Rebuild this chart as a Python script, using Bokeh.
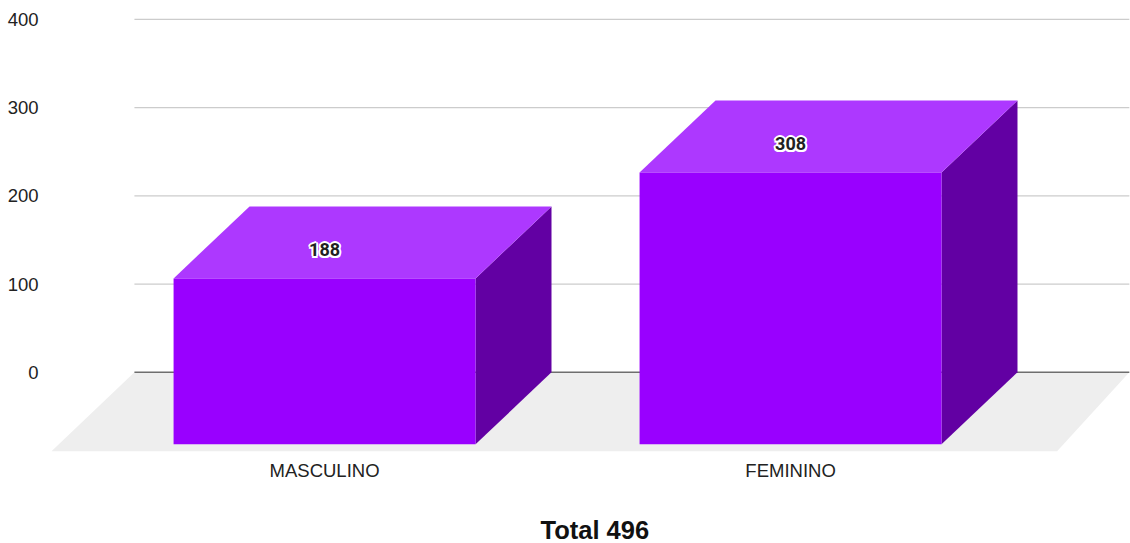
from bokeh.plotting import figure
from bokeh.models import Range1d, FixedTicker, Title
from bokeh.core.properties import value
from bokeh.embed import file_html
from bokeh.resources import INLINE

categories = ["MASCULINO", "FEMININO"]
counts = [188, 308]
y_ticks = [0, 100, 200, 300, 400]
chart_title = "Total 496"

BAR_WIDTH = 0.648
DEPTH_X = 0.163
DEPTH_Y = 81.6
LABEL_DROP = 49
FLOOR_BACK = (-0.408, 1.727)
FLOOR_FRONT = (-0.586, 1.572)
FLOOR_DEPTH = 89.5

FRONT = "#9900ff"
TOP = "#ad38ff"
SIDE = "#6200a3"
FONT = "Liberation Sans"

p = figure(width=1130, height=543, frame_width=1084, frame_height=444,
           output_backend="svg", toolbar_location=None,
           x_range=Range1d(-0.5967, 1.7295), y_range=Range1d(-90.9, 412.25),
           min_border_left=46, min_border_right=0, min_border_top=8, min_border_bottom=91)
p.outline_line_color = None
p.grid.visible = False

p.xaxis.ticker = FixedTicker(ticks=list(range(len(categories))))
p.xaxis.major_label_overrides = {i: c for i, c in enumerate(categories)}
p.yaxis.ticker = FixedTicker(ticks=y_ticks)
for ax in (p.xaxis[0], p.yaxis[0]):
    ax.axis_line_color = None
    ax.major_tick_line_color = None
    ax.minor_tick_line_color = None
    ax.major_label_text_font = FONT
    ax.major_label_text_color = "#222222"
    ax.major_label_text_font_size = "18.5px"
p.xaxis.major_label_standoff = 1
p.yaxis.major_label_standoff = 2

p.segment(x0=FLOOR_BACK[0], x1=FLOOR_BACK[1], y0=[t for t in y_ticks if t], y1=[t for t in y_ticks if t],
          line_color="#cccccc", line_width=1.2)
p.patch(x=[FLOOR_BACK[0], FLOOR_BACK[1], FLOOR_FRONT[1], FLOOR_FRONT[0]],
        y=[0, 0, -FLOOR_DEPTH, -FLOOR_DEPTH], fill_color="#eeeeee", line_color=None)
p.segment(x0=[FLOOR_BACK[0]], x1=[FLOOR_BACK[1]], y0=[0], y1=[0], line_color="#6e6e6e", line_width=1.5)

for i, v in enumerate(counts):
    l, r = i - BAR_WIDTH / 2, i + BAR_WIDTH / 2
    fy = v - DEPTH_Y
    p.patch(x=[r, r + DEPTH_X, r + DEPTH_X, r], y=[-DEPTH_Y, 0, v, fy], fill_color=SIDE, line_color=None)
    p.patch(x=[l, r, r + DEPTH_X, l + DEPTH_X], y=[fy, fy, v, v], fill_color=TOP, line_color=None)
    p.quad(left=l, right=r, bottom=-DEPTH_Y, top=fy, fill_color=FRONT, line_color=None)

xs = list(range(len(counts)))
ys = [v - LABEL_DROP for v in counts]
labels = [str(v) for v in counts]
for dx, dy in [(-2, 0), (2, 0), (0, -2), (0, 2), (-1.5, -1.5), (1.5, -1.5), (-1.5, 1.5), (1.5, 1.5)]:
    p.text(x=xs, y=ys, text=labels, x_offset=dx, y_offset=dy, text_align="center", text_baseline="middle",
           text_font=value("Roboto"), text_font_style="bold", text_font_size="18px", text_color="white")
p.text(x=xs, y=ys, text=labels, text_align="center", text_baseline="middle",
       text_font=value("Roboto"), text_font_style="bold", text_font_size="18px", text_color="#222222")

p.add_layout(Title(text=chart_title, align="left", offset=494, text_font=FONT, text_font_size="25.5px",
                   text_font_style="bold", text_color="#111111", standoff=61), "below")

open("out.html", "w").write(file_html(p, INLINE))
